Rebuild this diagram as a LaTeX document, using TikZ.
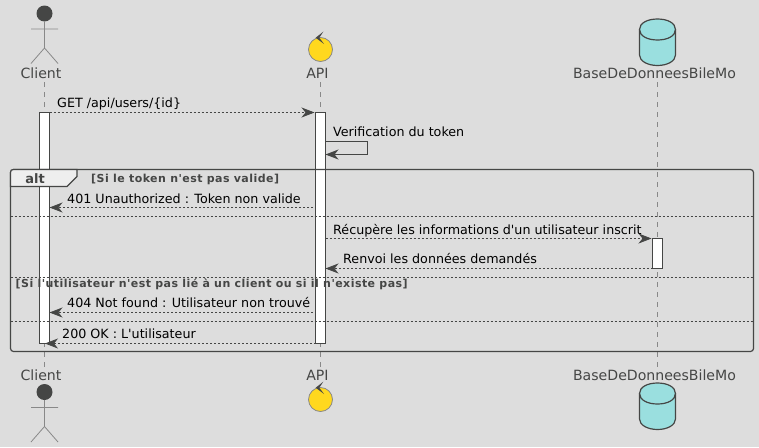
\documentclass[tikz,border=0pt]{standalone}
\usepackage{fontspec}
\newfontfamily\dvs{DejaVu Sans}
\usetikzlibrary{arrows.meta}
\definecolor{bgc}{HTML}{DDDDDD}
\definecolor{ink}{HTML}{454645}
\definecolor{life}{HTML}{888888}
\definecolor{ctl}{HTML}{FFD81E}
\definecolor{dbc}{HTML}{9ADFDF}
\definecolor{tabc}{HTML}{EEEEEE}
\tikzset{
 x=1pt,y=-1pt,
 tip/.style={-{Stealth[length=13pt,width=10pt,inset=4pt,color=ink]}},
 msg/.style={draw=ink,line width=0.8pt,dash pattern=on 2pt off 2pt,tip},
 selfmsg/.style={draw=ink,line width=1pt,tip},
 lifeline/.style={draw=life,line width=0.8pt,dash pattern=on 5pt off 5pt},
 bar/.style={draw=ink,fill=white,line width=1.2pt,minimum width=10pt,inner sep=0pt,outer sep=0pt},
 sep/.style={draw=ink,line width=0.8pt,dash pattern=on 2pt off 2pt},
 txt/.style={anchor=base west,inner sep=0pt,font=\dvs\fontsize{12.7}{13}\selectfont,text=black},
 guard/.style={anchor=base west,inner sep=0pt,font=\dvs\fontsize{11}{11}\selectfont\bfseries\addfontfeature{LetterSpace=4.1},text=ink},
 plabel/.style={anchor=base,inner sep=0pt,font=\dvs\fontsize{14.1}{14}\selectfont,text=ink},
}
\begin{document}
\begin{tikzpicture}
\path[use as bounding box,fill=bgc] (0,0) rectangle (759,447);
% lifelines
\coordinate (cT) at (44.5,82); \coordinate (cB) at (44.5,367);
\coordinate (aT) at (320.5,82); \coordinate (aB) at (320.5,367);
\coordinate (dT) at (657.5,82); \coordinate (dB) at (657.5,367);
\draw[lifeline] (cT) -- (cB);
\draw[lifeline] (aT) -- (aB);
\draw[lifeline] (dT) -- (dB);
% activations
\node[bar,minimum height=231pt] (barC) at (44.5,228) {};
\node[bar,minimum height=231pt] (barA) at (320.5,228) {};
\node[bar,minimum height=30pt] (barD) at (657.5,253.5) {};
% participants top
\node[plabel] (lc) at (41,78) {Client};
\node[plabel] (la) at (317.5,78) {API};
\node[plabel] (ld) at (654.5,78) {BaseDeDonneesBileMo};
% participants bottom
\node[plabel] (lc2) at (41,380) {Client};
\node[plabel] (la2) at (317.5,380) {API};
\node[plabel] (ld2) at (654.5,380) {BaseDeDonneesBileMo};
% actors
\foreach \y in {0,378.5}{
 \begin{scope}[shift={(0,\y)}]
 \fill[ink] (44.5,13.5) circle[radius=8];
 \draw[life,line width=0.8pt] (44.5,21.5) -- (44.5,48) (31,29) -- (58,29) (31,63.5) -- (44.5,48) -- (58,63.5);
 \end{scope}
}
% controls
\foreach \y in {49.5,399.5}{
 \begin{scope}[shift={(320.5,\y)}]
 \draw[life,fill=ctl,line width=0.8pt] (0,0) circle[radius=12];
 \fill[ink] (-4.8,-11.8) -- (2.8,-17.8) -- (-1.2,-11.8) -- (3.5,-5.5) -- cycle;
 \end{scope}
}
% databases
\foreach \y in {19,383}{
 \begin{scope}[shift={(657.5,\y)}]
 \draw[ink,fill=dbc,line width=1.2pt] (-18,10.5) .. controls (-18,4) and (-10,0) .. (0,0) .. controls (10,0) and (18,4) .. (18,10.5) -- (18,36) .. controls (18,42) and (10,46.5) .. (0,46.5) .. controls (-10,46.5) and (-18,42) .. (-18,36) -- cycle;
 \draw[ink,line width=1.2pt] (-18,10.5) .. controls (-18,17) and (-10,21) .. (0,21) .. controls (10,21) and (18,17) .. (18,10.5);
 \end{scope}
}
% frame
\draw[ink,line width=1.2pt,rounded corners=3pt] (10.5,169.5) rectangle (753.5,351.5);
\draw[ink,fill=tabc,line width=1.2pt] (10.5,186.5) -- (10.5,172.5) .. controls (10.5,170.5) and (11.5,169.5) .. (13.5,169.5) -- (77,169.5) -- (77,176.5) -- (67,186.5) -- cycle;
\node[anchor=base,inner sep=0pt,font=\dvs\fontsize{13}{13}\selectfont\bfseries,text=ink] (alt) at (35,183) {alt};
\draw[sep] (10.5,216.5) -- (753.5,216.5);
\draw[sep] (10.5,277.5) -- (753.5,277.5);
\draw[sep] (10.5,321.5) -- (753.5,321.5);
\node[guard] (g1) at (91,182) {[Si le token n'est pas valide]};
\node[guard] (g2) at (15.5,287) {[Si l'utilisateur n'est pas lié à un client ou si il n'existe pas]};
% messages
\coordinate (m1a) at (49.5,112.5); \coordinate (m1b) at (314.5,112.5);
\draw[msg] (m1a) -- (m1b);
\node[txt] (t1) at (57,107) {GET /api/users/\{id\}};
\coordinate (m2a) at (325.5,141.5); \coordinate (m2b) at (325.5,154.5);
\draw[selfmsg] (m2a) -- (367.5,141.5) -- (367.5,154.5) -- (m2b);
\node[txt] (t2) at (333,136) {Verification du token};
\coordinate (m3a) at (313,207.5); \coordinate (m3b) at (49.5,207.5);
\draw[msg] (m3a) -- (m3b);
\node[txt] (t3) at (67,203) {401 Unauthorized : Token non valide};
\coordinate (m4a) at (325.5,238.5); \coordinate (m4b) at (651.5,238.5);
\draw[msg] (m4a) -- (m4b);
\node[txt] (t4) at (333,234) {Récupère les informations d'un utilisateur inscrit};
\coordinate (m5a) at (652.5,268.5); \coordinate (m5b) at (325.5,268.5);
\draw[msg] (m5a) -- (m5b);
\node[txt] (t5) at (343,263) {Renvoi les données demandés};
\coordinate (m6a) at (313,312.5); \coordinate (m6b) at (49.5,312.5);
\draw[msg] (m6a) -- (m6b);
\node[txt] (t6) at (67,307) {404 Not found : Utilisateur non trouvé};
\coordinate (m7a) at (315.5,343.5); \coordinate (m7b) at (45,343.5);
\draw[msg] (m7a) -- (m7b);
\node[txt] (t7) at (62,338) {200 OK : L'utilisateur};
\end{tikzpicture}
\end{document}
